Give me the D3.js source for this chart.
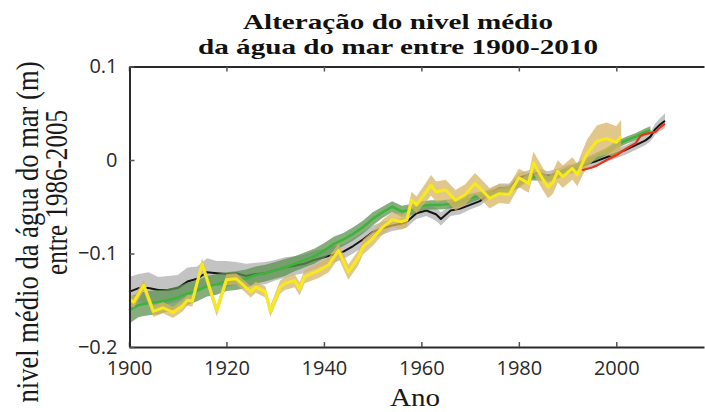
<!DOCTYPE html>
<html>
<head>
<meta charset="utf-8">
<script src="https://cdn.jsdelivr.net/npm/d3@7"></script>
<style>
  body { margin: 0; background: #fff; }
  svg { display: block; }
</style>
</head>
<body>
<div id="chart"></div>
<script>
var yearTicks = [1900, 1920, 1940, 1960, 1980, 2000];
var levelTicks = [0.1, 0, -0.1, -0.2];

// black series (grey band)
var blackYears = [
  1900, 1902, 1904, 1906, 1908,
  1910, 1912, 1914, 1916, 1918,
  1920, 1922, 1924, 1926, 1928,
  1930, 1932, 1934, 1936, 1938,
  1940, 1942, 1944, 1946, 1948,
  1950, 1952, 1954, 1956, 1957, 1959,
  1961, 1963, 1964, 1966, 1968,
  1970, 1972, 1974, 1976, 1978,
  1980, 1982, 1984, 1986, 1988,
  1990, 1992, 1994, 1996, 1998,
  2000, 2002, 2004, 2006, 2007, 2008, 2009, 2010];
var blackValues = [
  -0.141, -0.137, -0.137, -0.139, -0.139,
  -0.137, -0.130, -0.127, -0.120, -0.121,
  -0.122, -0.121, -0.124, -0.122, -0.121,
  -0.118, -0.115, -0.113, -0.111, -0.107,
  -0.104, -0.101, -0.098, -0.092, -0.085,
  -0.077, -0.073, -0.070, -0.068, -0.066, -0.057,
  -0.054, -0.058, -0.063, -0.054, -0.052,
  -0.048, -0.044, -0.036, -0.030, -0.030,
  -0.019, -0.016, -0.014, -0.017, -0.014,
  -0.010, -0.009, -0.004, -0.001, 0.003,
  0.007, 0.011, 0.016, 0.021, 0.025, 0.033, 0.038, 0.042];
var blackErr = [
  0.016, 0.015, 0.017, 0.014, 0.015,
  0.014, 0.015, 0.013, 0.015, 0.013,
  0.014, 0.012, 0.013, 0.012, 0.012,
  0.011, 0.011, 0.010, 0.010, 0.010,
  0.009, 0.009, 0.008, 0.008, 0.008,
  0.007, 0.007, 0.006, 0.006, 0.006, 0.006,
  0.006, 0.007, 0.007, 0.006, 0.006,
  0.005, 0.005, 0.005, 0.005, 0.005,
  0.005, 0.005, 0.005, 0.005, 0.005,
  0.005, 0.005, 0.005, 0.005, 0.005,
  0.005, 0.005, 0.005, 0.005, 0.005, 0.006, 0.007, 0.008];

// green series (dark green band)
var greenYears = [
  1900, 1902, 1904, 1906, 1908,
  1910, 1912, 1914, 1916, 1918,
  1920, 1922, 1924, 1926, 1928,
  1930, 1932, 1934, 1936, 1938,
  1940, 1942, 1944, 1946, 1948,
  1950, 1952, 1954, 1956, 1958,
  1960, 1962, 1964, 1966, 1968,
  1970, 1972, 1974, 1976, 1978,
  1980, 1982, 1984, 1986, 1988,
  1990, 1992, 1994, 1996, 1998,
  2000, 2002, 2004, 2006, 2007];
var greenValues = [
  -0.161, -0.155, -0.153, -0.152, -0.150,
  -0.147, -0.143, -0.140, -0.135, -0.133,
  -0.130, -0.129, -0.127, -0.123, -0.121,
  -0.118, -0.115, -0.111, -0.107, -0.103,
  -0.097, -0.090, -0.085, -0.079, -0.072,
  -0.063, -0.056, -0.050, -0.055, -0.053,
  -0.049, -0.048, -0.048, -0.047, -0.045,
  -0.041, -0.038, -0.036, -0.034, -0.031,
  -0.026, -0.018, -0.018, -0.020, -0.016,
  -0.011, -0.007, -0.001, 0.004, 0.009,
  0.016, 0.021, 0.025, 0.030, 0.032];
var greenErr = [
  0.014, 0.013, 0.013, 0.013, 0.012,
  0.012, 0.012, 0.011, 0.011, 0.011,
  0.010, 0.010, 0.010, 0.009, 0.009,
  0.009, 0.009, 0.008, 0.008, 0.008,
  0.008, 0.008, 0.007, 0.007, 0.007,
  0.007, 0.006, 0.006, 0.006, 0.006,
  0.005, 0.005, 0.005, 0.005, 0.005,
  0.005, 0.004, 0.004, 0.004, 0.004,
  0.004, 0.004, 0.004, 0.004, 0.004,
  0.004, 0.004, 0.004, 0.004, 0.004,
  0.004, 0.004, 0.004, 0.004, 0.004];

// yellow series (tan band)
var yellowYears = [
  1900, 1901, 1903, 1905, 1907, 1909,
  1911, 1912, 1913, 1915, 1918,
  1920, 1922, 1925, 1926, 1928, 1929,
  1931, 1932, 1934, 1935, 1936, 1939,
  1941, 1943, 1945, 1947, 1948,
  1950, 1952, 1954, 1956, 1957, 1958, 1959,
  1962, 1963, 1965, 1967, 1969,
  1971, 1972, 1974, 1976, 1978,
  1980, 1982, 1983, 1985, 1986, 1987, 1988, 1989,
  1991, 1992, 1993, 1994, 1996, 1998,
  2000, 2001];
var yellowValues = [
  -0.149, -0.152, -0.134, -0.162, -0.158, -0.163,
  -0.156, -0.150, -0.151, -0.111, -0.161,
  -0.128, -0.127, -0.141, -0.136, -0.141, -0.162,
  -0.136, -0.132, -0.129, -0.138, -0.125, -0.118,
  -0.112, -0.097, -0.120, -0.105, -0.093,
  -0.084, -0.072, -0.064, -0.066, -0.064, -0.043, -0.048,
  -0.027, -0.034, -0.032, -0.043, -0.037,
  -0.025, -0.030, -0.041, -0.036, -0.037,
  -0.019, -0.025, -0.003, -0.021, -0.029, -0.024, -0.012, -0.018,
  -0.009, -0.016, -0.004, 0.007, 0.020, 0.023,
  0.019, 0.025];
var yellowErr = [
  0.006, 0.006, 0.006, 0.006, 0.006, 0.006,
  0.006, 0.006, 0.006, 0.006, 0.006,
  0.006, 0.006, 0.006, 0.006, 0.006, 0.006,
  0.007, 0.007, 0.007, 0.007, 0.007, 0.008,
  0.008, 0.008, 0.008, 0.008, 0.008,
  0.008, 0.008, 0.008, 0.008, 0.008, 0.009, 0.009,
  0.011, 0.011, 0.011, 0.011, 0.011,
  0.011, 0.011, 0.011, 0.010, 0.010,
  0.010, 0.010, 0.012, 0.012, 0.012, 0.012, 0.012, 0.012,
  0.012, 0.012, 0.013, 0.015, 0.017, 0.017,
  0.017, 0.018];

// red series (satellite, no band)
var redYears = [1993, 1995, 1996, 1998, 2000, 2002, 2004, 2005, 2006, 2008, 2009, 2010];
var redValues = [-0.011, -0.008, -0.006, 0.000, 0.005, 0.012, 0.018, 0.026, 0.028, 0.030, 0.035, 0.039];

function rows(years, values, err) {
    return years.map(function(yr, i) {
        return { year: yr, value: values[i], err: err ? err[i] : 0 };
    });
}

var svg = d3.select("#chart")
    .append("svg")
    .attr("width", 705)
    .attr("height", 412);

var x = d3.scaleLinear().domain([1900, 2018]).range([129, 704]);
var y = d3.scaleLinear().domain([-0.2, 0.1]).range([347, 66.5]);

var band = d3.area()
    .x(function(d) { return x(d.year); })
    .y0(function(d) { return y(d.value - d.err); })
    .y1(function(d) { return y(d.value + d.err); });

var line = d3.line()
    .x(function(d) { return x(d.year); })
    .y(function(d) { return y(d.value); });

var black = rows(blackYears, blackValues, blackErr);
var green = rows(greenYears, greenValues, greenErr);
var yellow = rows(yellowYears, yellowValues, yellowErr);
var red = rows(redYears, redValues);

svg.append("path").datum(black).attr("d", band)
    .attr("fill", "#b8b8b8").attr("opacity", 0.85);
svg.append("path").datum(black).attr("d", line)
    .attr("fill", "none").attr("stroke", "#151515").attr("stroke-width", 2)
    .attr("stroke-linejoin", "round");

svg.append("path").datum(green).attr("d", band)
    .attr("fill", "#5d9150").attr("opacity", 0.75);
svg.append("path").datum(green).attr("d", line)
    .attr("fill", "none").attr("stroke", "#3cb43a").attr("stroke-width", 2.5)
    .attr("stroke-linejoin", "round");

svg.append("path").datum(yellow).attr("d", band)
    .attr("fill", "#d8b463").attr("opacity", 0.75);
svg.append("path").datum(yellow).attr("d", line)
    .attr("fill", "none").attr("stroke", "#f6ea1c").attr("stroke-width", 3)
    .attr("stroke-linejoin", "round");

svg.append("path").datum(red).attr("d", line)
    .attr("fill", "none").attr("stroke", "#e8331d").attr("stroke-width", 2.2)
    .attr("stroke-linejoin", "round");

// axes
svg.append("g")
    .attr("transform", "translate(0,347)")
    .call(d3.axisBottom(x).tickValues(yearTicks).tickSizeInner(-5).tickSizeOuter(0)
        .tickPadding(14).tickFormat(d3.format("d")));

svg.append("g")
    .attr("transform", "translate(0,66.5)")
    .call(d3.axisTop(x).tickValues(yearTicks).tickSizeInner(-5).tickSizeOuter(0)
        .tickFormat(""));

svg.append("g")
    .attr("transform", "translate(129.5,0)")
    .call(d3.axisLeft(y).tickValues(levelTicks).tickSizeInner(-5).tickSizeOuter(0)
        .tickPadding(12).tickFormat(function(d) { return d === 0 ? "0" : d3.format(".1f")(d); }));

svg.selectAll(".domain").attr("stroke", "#2a2a2a").attr("stroke-width", 2);
svg.selectAll(".tick line").attr("stroke", "#555").attr("stroke-width", 1.5);
svg.selectAll(".tick text")
    .attr("fill", "#2a2a2a")
    .style("font-family", "'Open Sans', sans-serif")
    .style("font-size", "20px");

// titles
svg.append("text")
    .attr("x", 398).attr("y", 29)
    .attr("text-anchor", "middle")
    .attr("textLength", 310).attr("lengthAdjust", "spacingAndGlyphs")
    .style("font-family", "'Liberation Serif', serif")
    .style("font-weight", "bold").style("font-size", "22px")
    .attr("fill", "#111")
    .text("Alteração do nivel médio");
svg.append("text")
    .attr("x", 398).attr("y", 54)
    .attr("text-anchor", "middle")
    .attr("textLength", 400).attr("lengthAdjust", "spacingAndGlyphs")
    .style("font-family", "'Liberation Serif', serif")
    .style("font-weight", "bold").style("font-size", "22px")
    .attr("fill", "#111")
    .text("da água do mar entre 1900-2010");

svg.append("text")
    .attr("x", 415).attr("y", 406)
    .attr("text-anchor", "middle")
    .attr("textLength", 50).attr("lengthAdjust", "spacingAndGlyphs")
    .style("font-family", "'Liberation Serif', serif")
    .style("font-size", "25px")
    .attr("fill", "#1a1a1a")
    .text("Ano");

svg.append("text")
    .attr("transform", "translate(38,232) scale(1.2,1) rotate(-90)")
    .attr("text-anchor", "middle")
    .attr("textLength", 341).attr("lengthAdjust", "spacingAndGlyphs")
    .style("font-family", "'Liberation Serif', serif")
    .style("font-size", "26px")
    .attr("fill", "#1a1a1a")
    .text("nivel médio da água do mar (m)");
svg.append("text")
    .attr("transform", "translate(67,192.5) scale(1.2,1) rotate(-90)")
    .attr("text-anchor", "middle")
    .attr("textLength", 165).attr("lengthAdjust", "spacingAndGlyphs")
    .style("font-family", "'Liberation Serif', serif")
    .style("font-size", "26px")
    .attr("fill", "#1a1a1a")
    .text("entre 1986-2005");
</script>
</body>
</html>
